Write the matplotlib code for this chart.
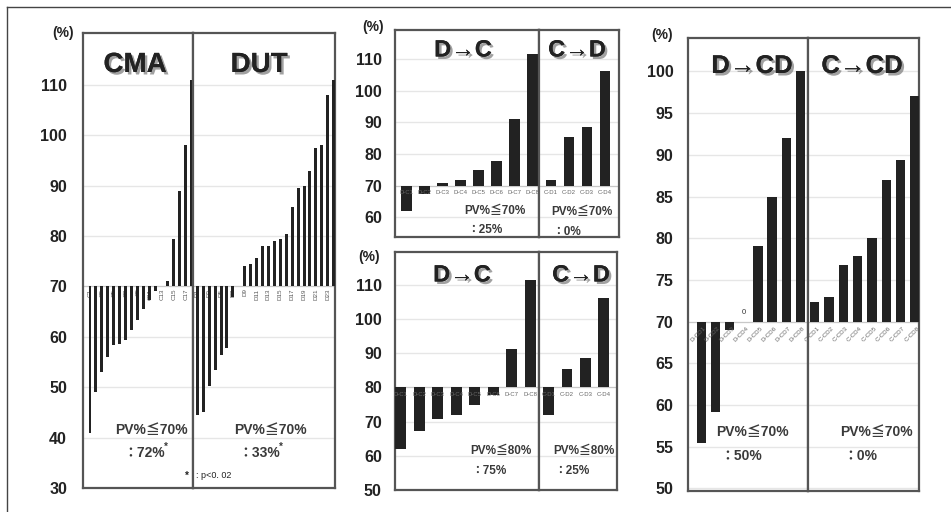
import matplotlib
matplotlib.use('Agg')
import matplotlib.pyplot as plt
import matplotlib.patheffects as pe
from matplotlib.lines import Line2D

plt.rcParams['font.family'] = ['Liberation Sans', 'Noto Sans CJK JP', 'DejaVu Sans']

# ---- data: portal venous flow (%) per patient ----
cma_labels = [f'C{i}' for i in range(1, 19)]
cma_pv = [41, 49, 53, 56, 58.3, 58.5, 59.3, 61.3, 63.3, 65.5, 67.3, 69, 70, 71,
          79.5, 89, 98, 111]
dut_labels = [f'D{i}' for i in range(1, 25)]
dut_pv = [44.5, 45, 50.3, 53.5, 56.3, 57.8, 68, 70, 74, 74.5, 75.7, 78, 78, 79,
          79.5, 80.5, 85.8, 89.5, 90, 93, 97.5, 98, 108, 111]

dc_labels = [f'D-C{i}' for i in range(1, 9)]
dc_pv = [62, 67.3, 70.8, 71.8, 74.8, 77.9, 91.1, 111.4]
cd_labels = [f'C-D{i}' for i in range(1, 5)]
cd_pv = [71.8, 85.3, 88.5, 106.1]

dcd_labels = [f'D-CD{i}' for i in range(1, 9)]
dcd_pv = [55.4, 59.2, 69, 70, 79.1, 85, 92, 100]
ccd_labels = [f'C-CD{i}' for i in range(1, 9)]
ccd_pv = [72.4, 73, 76.8, 77.9, 80, 87, 89.4, 97.1]

W, H = 951, 512
fig = plt.figure(figsize=(W / 100, H / 100), dpi=100)
fig.patch.set_facecolor('white')

BAR = '#222222'
FRAME = '#555555'
TXT = '#222222'


def px_axes(x0, y0, x1, y1):
    return fig.add_axes([x0 / W, 1 - y1 / H, (x1 - x0) / W, (y1 - y0) / H])


def ftext(x, y, s, **kw):
    kw.setdefault('ha', 'center')
    kw.setdefault('va', 'center')
    return fig.text(x / W, 1 - y / H, s, **kw)


def style(ax, xlim, ylim, ticks, base, show_y, pad=10):
    ax.set_xlim(*xlim)
    ax.set_ylim(*ylim)
    ax.set_yticks(ticks)
    ax.set_xticks([])
    ax.grid(axis='y', color='#e6e6e6', lw=1)
    ax.set_axisbelow(True)
    ax.axhline(base, color='#c8c8c8', lw=0.8, zorder=1)
    for s in ax.spines.values():
        s.set_color(FRAME)
        s.set_linewidth(1.6)
    ax.tick_params(axis='y', length=0, pad=pad, labelleft=show_y,
                   labelsize=11.5, labelcolor=TXT)
    for lab in ax.get_yticklabels():
        lab.set_fontweight('bold')


def bars(ax, vals, base, width):
    x = list(range(len(vals)))
    ax.bar(x, [v - base for v in vals], bottom=base, width=width,
           color=BAR, zorder=3)


def title(x, y, s, size):
    ftext(x, y, s, fontsize=size, fontweight='bold', color=TXT,
          path_effects=[pe.withSimplePatchShadow(offset=(1.8, -1.8),
                                                 shadow_rgbFace='#8a8a8a',
                                                 alpha=0.8),
                        pe.Normal()])


def pv_text(x, y, s, size=10):
    ftext(x, y, s, fontsize=size, fontweight='bold', color='#3a3a3a')


# ---------------- left panel: CMA | DUT ----------------
ax_cma = px_axes(83, 33, 193, 488)
ax_dut = px_axes(193, 33, 335, 488)
bars(ax_cma, cma_pv, 70, 0.5)
bars(ax_dut, dut_pv, 70, 0.5)
style(ax_cma, (-1.17, 17.22), (30, 120.3), range(30, 111, 10), 70, True, pad=11.5)
style(ax_dut, (-0.73, 23.22), (30, 120.3), range(30, 111, 10), 70, False)
for ax, labs in ((ax_cma, cma_labels), (ax_dut, dut_labels)):
    for i, lab in enumerate(labs):
        if i % 2 == 0:
            ax.annotate(lab, (i, 70), xytext=(0, -1.5), textcoords='offset points',
                        rotation=90, ha='center', va='top', fontsize=4.5,
                        color='#555555', zorder=2)
ftext(63, 33, '(%)', fontsize=10, fontweight='bold', color=TXT)
title(135, 65, 'CMA', 20)
title(259, 65, 'DUT', 20)
pv_text(151, 430, 'PV%≦70%')
pv_text(144, 453, '：72%')
ftext(166, 447, '*', fontsize=7, fontweight='bold', color='#3a3a3a')
pv_text(270, 430, 'PV%≦70%')
pv_text(259, 453, '：33%')
ftext(281, 447, '*', fontsize=7, fontweight='bold', color='#3a3a3a')
ftext(187, 476, '*', fontsize=7, fontweight='bold', color=TXT)
ftext(196, 476, ': p<0. 02', fontsize=6.5, color=TXT, ha='left')

# ---------------- middle top: baseline 70 ----------------
ax_dc1 = px_axes(395, 30, 539, 237)
ax_cd1 = px_axes(539, 30, 619, 237)
bars(ax_dc1, dc_pv, 70, 0.6)
bars(ax_cd1, cd_pv, 70, 0.55)
style(ax_dc1, (-0.65, 7.37), (53.8, 119.1), range(60, 111, 10), 70, True, pad=9.5)
style(ax_cd1, (-0.64, 3.79), (53.8, 119.1), range(60, 111, 10), 70, False)

# ---------------- middle bottom: baseline 80 ----------------
ax_dc2 = px_axes(395, 252, 539, 490)
ax_cd2 = px_axes(539, 252, 617, 490)
bars(ax_dc2, dc_pv, 80, 0.59)
bars(ax_cd2, cd_pv, 80, 0.59)
style(ax_dc2, (-0.3, 7.46), (50, 119.6), range(50, 111, 10), 80, True, pad=9.5)
style(ax_cd2, (-0.53, 3.73), (50, 119.6), range(50, 111, 10), 80, False)

for ax, labs, base in ((ax_dc1, dc_labels, 70), (ax_cd1, cd_labels, 70),
                       (ax_dc2, dc_labels, 80), (ax_cd2, cd_labels, 80)):
    for i, lab in enumerate(labs):
        ax.annotate(lab, (i, base), xytext=(0, -5), textcoords='offset points',
                    ha='center', va='center', fontsize=4.3, color='#666666',
                    zorder=4)

ftext(373, 27, '(%)', fontsize=10, fontweight='bold', color=TXT)
title(463, 50, 'D→C', 17)
title(577, 50, 'C→D', 17)
pv_text(495, 211, 'PV%≦70%', 8.5)
pv_text(485, 230, '：25%', 8.5)
pv_text(582, 212, 'PV%≦70%', 8.5)
pv_text(567, 232, '：0%', 8.5)

ftext(369, 257, '(%)', fontsize=10, fontweight='bold', color=TXT)
title(462, 275, 'D→C', 17)
title(581, 275, 'C→D', 17)
pv_text(501, 451, 'PV%≦80%', 8.5)
pv_text(489, 471, '：75%', 8.5)
pv_text(584, 451, 'PV%≦80%', 8.5)
pv_text(572, 471, '：25%', 8.5)

# ---------------- right panel: D→CD | C→CD ----------------
ax_dcd = px_axes(688, 38, 808, 491)
ax_ccd = px_axes(808, 38, 919, 491)
bars(ax_dcd, dcd_pv, 70, 0.65)
bars(ax_ccd, ccd_pv, 70, 0.65)
style(ax_dcd, (-0.94, 7.54), (49.7, 104), range(50, 101, 5), 70, True, pad=10.5)
style(ax_ccd, (-0.47, 7.3), (49.7, 104), range(50, 101, 5), 70, False)
for ax, labs in ((ax_dcd, dcd_labels), (ax_ccd, ccd_labels)):
    for i, lab in enumerate(labs):
        ax.annotate(lab, (i + 0.15, 70), xytext=(0, -3), textcoords='offset points',
                    rotation=45, rotation_mode='anchor', ha='right', va='top',
                    fontsize=4.5, color='#666666', zorder=4)
ax_dcd.annotate('0', (3, 70), xytext=(0, 4), textcoords='offset points',
                ha='center', va='bottom', fontsize=5.5, color='#333333')

ftext(662, 35, '(%)', fontsize=10, fontweight='bold', color=TXT)
title(752, 66, 'D→CD', 18.5)
title(862, 66, 'C→CD', 18.5)
pv_text(752, 432, 'PV%≦70%')
pv_text(741, 456, '：50%')
pv_text(876, 432, 'PV%≦70%')
pv_text(860, 456, '：0%')

# outer border
fig.add_artist(Line2D([6.5 / W, 6.5 / W], [0, 1 - 6.5 / H],
                      transform=fig.transFigure, color='#444444', lw=1))
fig.add_artist(Line2D([6.5 / W, 1], [1 - 6.5 / H, 1 - 6.5 / H],
                      transform=fig.transFigure, color='#444444', lw=1))

fig.savefig('out.png', dpi=100, facecolor='white')
